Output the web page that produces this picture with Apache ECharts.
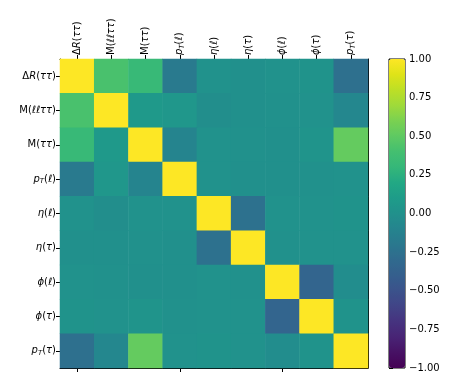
<!DOCTYPE html>
<html><head><meta charset="utf-8">
<script src="https://cdn.jsdelivr.net/npm/echarts@6/dist/echarts.min.js"></script>
<style>html,body{margin:0;padding:0;background:#fff}#c{width:457px;height:384px}</style>
</head><body><div id="c"></div>
<script>
// Variable names (row/column order)
const labels = ['dR_tautau','M_lltautau','M_tautau','pT_l','eta_l','eta_tau','phi_l','phi_tau','pT_tau'];
// Correlation matrix rows
const row_dR      = [ 1.00,  0.42,  0.32, -0.18,  0.01, -0.01,  0.01,  0.02, -0.26];
const row_Mlltt   = [ 0.42,  1.00,  0.07,  0.05, -0.02, -0.01,  0.00,  0.01, -0.08];
const row_Mtt     = [ 0.32,  0.07,  1.00, -0.10,  0.01,  0.00, -0.01,  0.03,  0.52];
const row_pTl     = [-0.18,  0.05, -0.10,  1.00,  0.01, -0.01, -0.01,  0.00,  0.01];
const row_etal    = [ 0.01, -0.02,  0.01,  0.01,  1.00, -0.25,  0.01,  0.01,  0.02];
const row_etatau  = [-0.01, -0.01,  0.00, -0.01, -0.25,  1.00,  0.00,  0.01,  0.01];
const row_phil    = [ 0.01,  0.00, -0.01, -0.01,  0.01,  0.00,  1.00, -0.35, -0.03];
const row_phitau  = [ 0.02,  0.01,  0.03,  0.00,  0.01,  0.01, -0.35,  1.00,  0.02];
const row_pTtau   = [-0.26, -0.08,  0.52,  0.01,  0.02,  0.01, -0.03,  0.02,  1.00];
const matrix = [row_dR,row_Mlltt,row_Mtt,row_pTl,row_etal,row_etatau,row_phil,row_phitau,row_pTtau];
// Colorbar ticks
const cbTicks = [-1.00,-0.75,-0.50,-0.25,0.00,0.25,0.50,0.75,1.00];

const viridis = ['#440154','#471164','#482475','#46337f','#414487','#3b528b','#355f8d','#306a8e','#2a788e','#25848e','#21918c','#1e9c89','#22a884','#35b779','#44bf70','#5ec962','#7ad151','#9fda3a','#bddf26','#dfe318','#fde725'];

const rich = {
  r:{fontFamily:'DejaVu Sans',fontSize:10,color:'#000'},
  i:{fontFamily:'DejaVu Sans',fontSize:10,fontStyle:'italic',color:'#000'},
  s:{fontFamily:'DejaVu Sans',fontSize:7,fontStyle:'italic',color:'#000',verticalAlign:'bottom',padding:[4,0,0,0]}
};
const fmt = {
  dR_tautau:'{r|Δ}{i|R}{r|(}{i|ττ}{r|)}',
  M_lltautau:'{r|M(}{i|ℓℓττ}{r|)}',
  M_tautau:'{r|M(}{i|ττ}{r|)}',
  pT_l:'{i|p}{s|T}{r|(}{i|ℓ}{r|)}',
  eta_l:'{i|η}{r|(}{i|ℓ}{r|)}',
  eta_tau:'{i|η}{r|(}{i|τ}{r|)}',
  phi_l:'{i|ϕ}{r|(}{i|ℓ}{r|)}',
  phi_tau:'{i|ϕ}{r|(}{i|τ}{r|)}',
  pT_tau:'{i|p}{s|T}{r|(}{i|τ}{r|)}'
};

const data = [];
for (let r=0;r<matrix.length;r++) for (let c=0;c<matrix[r].length;c++) data.push([c,r,matrix[r][c]]);

const G = {left:60, top:59, width:308, height:309};
const chart = echarts.init(document.getElementById('c'), null, {renderer:'canvas'});
const axLine = {show:true, lineStyle:{color:'#000', width:1}};
chart.setOption({
  animation:false,
  backgroundColor:'#fff',
  grid:[
    {left:G.left, top:G.top, width:G.width, height:G.height},
    {left:389, top:59, width:16, height:309, show:true, borderColor:'#000', borderWidth:1, backgroundColor:'transparent'}
  ],
  xAxis:[
    {type:'category', gridIndex:0, position:'top', data:labels, axisLine:axLine,
     axisTick:{show:true, alignWithLabel:true, length:4, lineStyle:{color:'#000'}},
     axisLabel:{rotate:-90, margin:4, formatter:v=>fmt[v], rich:rich}, splitLine:{show:false}},
    {type:'category', gridIndex:0, position:'bottom', data:labels, axisLine:axLine,
     axisTick:{show:true, alignWithLabel:true, length:4, lineStyle:{color:'#000'}},
     axisLabel:{show:false}},
    {type:'value', gridIndex:1, min:0, max:1, show:false}
  ],
  yAxis:[
    {type:'category', gridIndex:0, position:'left', inverse:true, data:labels, axisLine:axLine,
     axisTick:{show:true, alignWithLabel:true, length:4, lineStyle:{color:'#000'}},
     axisLabel:{margin:4, formatter:v=>fmt[v], rich:rich}, splitLine:{show:false}},
    {type:'category', gridIndex:0, position:'right', inverse:true, data:labels, axisLine:axLine,
     axisTick:{show:false}, axisLabel:{show:false}},
    {type:'value', gridIndex:1, position:'right', min:-1, max:1, interval:0.25,
     axisLine:{show:false}, splitLine:{show:false},
     axisTick:{show:true, length:4, lineStyle:{color:'#000'}},
     axisLabel:{margin:4, fontFamily:'DejaVu Sans', fontSize:10, color:'#000',
       formatter:v=>(v<0?'\u2212':'')+Math.abs(v).toFixed(2)}}
  ],
  visualMap:{
    type:'continuous', seriesIndex:0, min:-1, max:1, calculable:false, show:true,
    left:389, top:59, itemWidth:16, itemHeight:309, padding:0, text:null,
    inRange:{color:viridis}, hoverLink:false
  },
  series:[
    {type:'heatmap', xAxisIndex:0, yAxisIndex:0, data:data, emphasis:{disabled:true}, progressive:0},
    {type:'line', xAxisIndex:2, yAxisIndex:2, data:[], silent:true}
  ]
});
</script></body></html>
